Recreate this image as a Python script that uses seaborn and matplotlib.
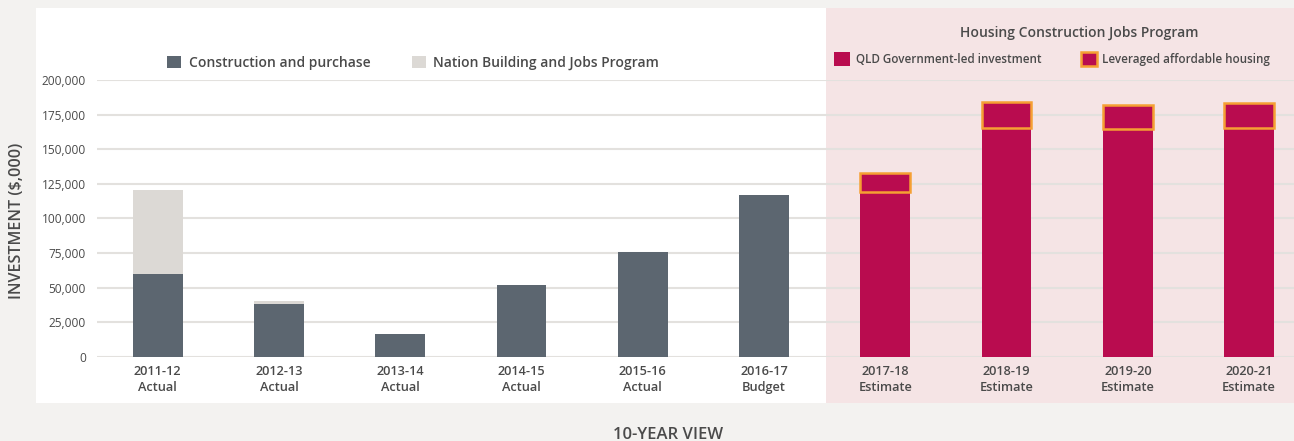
import matplotlib
matplotlib.use("Agg")
import matplotlib.pyplot as plt
from matplotlib.patches import Rectangle, Patch
import seaborn as sns
import pandas as pd

categories = ["2011-12\nActual", "2012-13\nActual", "2013-14\nActual", "2014-15\nActual",
              "2015-16\nActual", "2016-17\nBudget", "2017-18\nEstimate", "2018-19\nEstimate",
              "2019-20\nEstimate", "2020-21\nEstimate"]
construction = [60000, 38000, 16500, 52000, 75800, 117000, 0, 0, 0, 0]
nation_building = [60500, 2300, 0, 0, 0, 0, 0, 0, 0, 0]
qld_gov = [0, 0, 0, 0, 0, 0, 119000, 165100, 164400, 165100]
leveraged = [0, 0, 0, 0, 0, 0, 14000, 19000, 17800, 18100]
y_ticks = [0, 25000, 50000, 75000, 100000, 125000, 150000, 175000, 200000]

C_DARK = "#5c6670"
C_LIGHT = "#dcd9d5"
C_MAG = "#b90c4f"
C_ORANGE = "#f5a033"
C_PINK = "#f5e4e5"
C_BG = "#f3f2f0"
C_TEXT = "#4a4a4a"

sns.set_theme(style="white")
plt.rcParams["font.family"] = ["Open Sans", "DejaVu Sans"]

df = pd.DataFrame({
    "cat": categories,
    "construction": construction,
    "nation": nation_building,
    "qld": qld_gov,
    "lev": leveraged,
})
df["grey_total"] = df["construction"] + df["nation"]
est = df[df["lev"] > 0].copy()

W, H = 1294, 441
fig = plt.figure(figsize=(W / 100, H / 100), dpi=100, facecolor=C_BG)
fig.patches.append(Rectangle((36 / W, 1 - 403 / H), (826 - 36) / W, (403 - 8) / H,
                             transform=fig.transFigure, facecolor="white", edgecolor="none", zorder=-2))
fig.patches.append(Rectangle((826 / W, 1 - 403 / H), (1294 - 826) / W, (403 - 8) / H,
                             transform=fig.transFigure, facecolor=C_PINK, edgecolor="none", zorder=-2))

ax = fig.add_axes([97 / W, (H - 357) / H, (1294 - 97) / W, 277 / H])
ax.set_zorder(2)
ax.set_facecolor("none")

bw = 0.41
sns.barplot(data=df, x="cat", y="grey_total", order=categories, color=C_LIGHT,
            width=bw, saturation=1, ax=ax, zorder=3, linewidth=0)
sns.barplot(data=df, x="cat", y="construction", order=categories, color=C_DARK,
            width=bw, saturation=1, ax=ax, zorder=4, linewidth=0)
sns.barplot(data=df, x="cat", y="qld", order=categories, color=C_MAG,
            width=bw, saturation=1, ax=ax, zorder=4, linewidth=0)
sns.barplot(data=est, x="cat", y="lev", order=categories, color=C_MAG,
            width=bw, saturation=1, ax=ax, zorder=5, bottom=est["qld"].values,
            edgecolor=C_ORANGE, linewidth=1.8)

ax.set_xlim(-0.5, 9.37)
ax.set_ylim(0, 200000)
ax.set_yticks(y_ticks)
ax.set_yticklabels([f"{v:,}" for v in y_ticks])
ax.yaxis.grid(True, color="#e3e1de", linewidth=1.5, zorder=0)
ax.set_axisbelow(True)
for s in ax.spines.values():
    s.set_visible(False)
ax.tick_params(axis="both", length=0)
ax.tick_params(axis="y", pad=8, labelsize=8.6, labelcolor=C_TEXT)
ax.tick_params(axis="x", pad=5.5, labelsize=9.2, labelcolor=C_TEXT)
for lab in ax.get_xticklabels():
    lab.set_fontweight("semibold")
    lab.set_linespacing(1.3)
ax.set_xlabel("")
ax.set_ylabel("")

fig.text(17 / W, 1 - 221 / H, "INVESTMENT ($,000)", rotation=90, ha="center", va="center",
         fontsize=11.6, fontweight="semibold", color=C_TEXT)
fig.text(668 / W, 1 - 427 / H, "10-YEAR VIEW", ha="center", va="top",
         fontsize=12, fontweight="semibold", color=C_TEXT)

h1 = [Patch(facecolor=C_DARK, edgecolor="none"), Patch(facecolor=C_LIGHT, edgecolor="none")]
leg1 = fig.legend(h1, ["Construction and purchase", "Nation Building and Jobs Program"],
                  loc="center left", bbox_to_anchor=(167 / W, 1 - 63 / H), ncol=2,
                  frameon=False, fontsize=10, handlelength=1.0, handleheight=1.0,
                  handletextpad=0.55, columnspacing=3.0, borderaxespad=0, borderpad=0)
for t in leg1.get_texts():
    t.set_color(C_TEXT)
    t.set_fontweight("semibold")

fig.text(1079 / W, 1 - 33 / H, "Housing Construction Jobs Program", ha="center", va="center",
         fontsize=10, fontweight="semibold", color=C_TEXT)
h2 = [Patch(facecolor=C_MAG, edgecolor="none"),
      Patch(facecolor=C_MAG, edgecolor=C_ORANGE, linewidth=1.8)]
leg2 = fig.legend(h2, ["QLD Government-led investment", "Leveraged affordable housing"],
                  loc="center left", bbox_to_anchor=(834 / W, 1 - 59 / H), ncol=2,
                  frameon=False, fontsize=8.4, handlelength=1.4, handleheight=1.4,
                  handletextpad=0.45, columnspacing=3.4, borderaxespad=0, borderpad=0)
for t in leg2.get_texts():
    t.set_color(C_TEXT)
    t.set_fontweight("semibold")

fig.savefig("out.png", dpi=100, facecolor=C_BG)
